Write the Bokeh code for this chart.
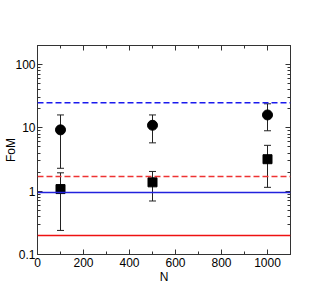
from bokeh.plotting import figure
from bokeh.models import (Range1d, LinearAxis, LogAxis, FixedTicker, CustomJSTickFormatter,
                          ColumnDataSource, Whisker, TeeHead, Span)
from bokeh.embed import file_html
from bokeh.resources import INLINE

# data
n_vals = [100, 500, 1000]
circ_val = [9.3, 11.0, 16.0]
circ_lo = [2.3, 5.8, 9.0]
circ_hi = [16.0, 16.0, 24.0]
sq_val = [1.08, 1.38, 3.2]
sq_lo = [0.24, 0.70, 1.15]
sq_hi = [1.95, 2.05, 5.3]
hlines = [25.0, 1.7, 0.95, 0.2]
hline_colors = ["#1a1aee", "#ee3333", "#2222dd", "#ee1111"]
hline_dash = ["dashed", "dashed", "solid", "solid"]
x_ticks = [0, 200, 400, 600, 800, 1000]
x_minor = [100, 300, 500, 700, 900, 1100]
y_ticks = [0.1, 1, 10, 100]
y_minor = [m * d for d in [0.1, 1, 10, 100] for m in range(2, 10) if m * d <= 200]

FONT = "Liberation Sans"

p = figure(width=319, height=292, x_axis_type="linear", y_axis_type="log",
           x_range=Range1d(0, 1100), y_range=Range1d(0.1, 200),
           output_backend="svg", toolbar_location=None,
           min_border_left=37, min_border_right=29, min_border_top=45, min_border_bottom=38)
p.xgrid.visible = False
p.ygrid.visible = False
p.outline_line_color = "#333333"
p.outline_line_width = 1
p.background_fill_color = "white"
p.border_fill_color = "white"

fmt = CustomJSTickFormatter(code="return String(Math.round(tick*1000)/1000);")
blank = CustomJSTickFormatter(code="return '';")

def style(ax, labels=True):
    ax.axis_line_color = "#333333"
    ax.major_tick_in = 5
    ax.major_tick_out = 0
    ax.minor_tick_in = 3
    ax.minor_tick_out = 0
    ax.major_tick_line_color = "#333333"
    ax.minor_tick_line_color = "#333333"
    ax.major_label_text_font = FONT
    ax.major_label_text_font_size = "12px"
    ax.major_label_text_color = "black"
    ax.axis_label_text_font = FONT
    ax.axis_label_text_font_size = "12px"
    ax.axis_label_text_color = "black"
    ax.axis_label_text_font_style = "normal"
    ax.axis_label_standoff = 0
    ax.major_label_standoff = 3
    if not labels:
        ax.formatter = blank
        ax.major_label_text_font_size = "0px"
        ax.major_label_standoff = 0

xt = FixedTicker(ticks=x_ticks, minor_ticks=x_minor)
yt = FixedTicker(ticks=y_ticks, minor_ticks=y_minor)

p.xaxis.ticker = xt
p.yaxis.ticker = yt
p.yaxis.formatter = fmt
p.xaxis.axis_label = "N"
p.yaxis.axis_label = "FoM"
style(p.xaxis[0])
style(p.yaxis[0])
p.yaxis[0].axis_label_standoff = -6
p.yaxis[0].major_label_standoff = 2

top = LinearAxis(ticker=FixedTicker(ticks=x_ticks, minor_ticks=x_minor))
style(top, labels=False)
p.add_layout(top, "above")
right = LogAxis(ticker=FixedTicker(ticks=y_ticks, minor_ticks=y_minor))
style(right, labels=False)
p.add_layout(right, "right")

for loc, c, d in zip(hlines, hline_colors, hline_dash):
    p.add_layout(Span(location=loc, dimension="width", line_color=c,
                      line_dash="6 3" if d == "dashed" else "solid", line_width=1.5))

cs = ColumnDataSource(dict(x=n_vals, y=circ_val, lo=circ_lo, hi=circ_hi))
ss = ColumnDataSource(dict(x=n_vals, y=sq_val, lo=sq_lo, hi=sq_hi))
for src in (cs, ss):
    w = Whisker(source=src, base="x", upper="hi", lower="lo", line_color="#222222", line_width=1,
                upper_head=TeeHead(size=7, line_color="#222222"),
                lower_head=TeeHead(size=7, line_color="#222222"))
    p.add_layout(w)

p.scatter("x", "y", source=cs, marker="circle", size=10, color="black")
p.scatter("x", "y", source=ss, marker="square", size=9, color="black")

open("out.html", "w").write(file_html(p, INLINE))
